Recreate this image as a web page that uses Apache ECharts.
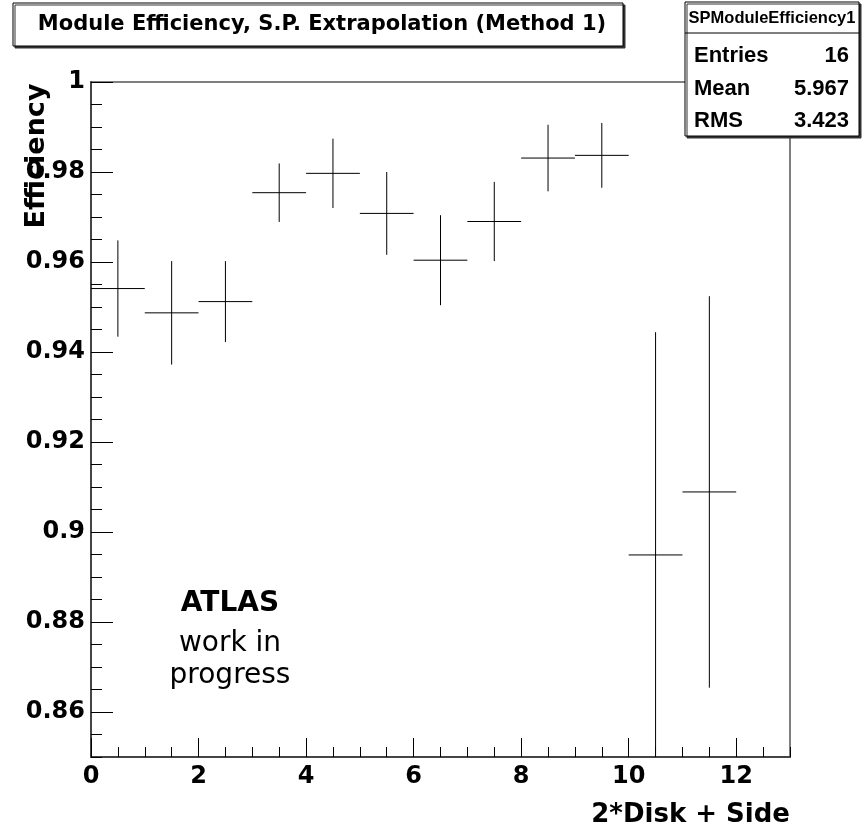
<!DOCTYPE html>
<html><head><meta charset="utf-8">
<script src="https://cdn.jsdelivr.net/npm/echarts@6/dist/echarts.min.js"></script>
<style>html,body{margin:0;padding:0;background:#fff}#c{width:862px;height:833px}</style>
</head><body><div id="c"></div>
<script>
// ---- data ----
const binCenters = [0.5, 1.5, 2.5, 3.5, 4.5, 5.5, 6.5, 7.5, 8.5, 9.5, 10.5, 11.5];
const efficiency = [0.9541, 0.9487, 0.9512, 0.9754, 0.9797, 0.9708, 0.9604, 0.9690, 0.9831, 0.9837, 0.8949, 0.9089];
const efficiencyErr = [0.0107, 0.0115, 0.0090, 0.0065, 0.0077, 0.0092, 0.0100, 0.0088, 0.0074, 0.0072, 0.0495, 0.0435];
const binHalfWidth = [0.5, 0.5, 0.5, 0.5, 0.5, 0.5, 0.5, 0.5, 0.5, 0.5, 0.5, 0.5];
const xTickLabels = [0, 2, 4, 6, 8, 10, 12];
const yTickLabels = [0.86, 0.88, 0.90, 0.92, 0.94, 0.96, 0.98, 1.00];
const titleText = 'Module Efficiency, S.P. Extrapolation (Method 1)';
const statsName = 'SPModuleEfficiency1';
const statsLabels = ['Entries', 'Mean', 'RMS'];
const statsValues = ['16', '5.967', '3.423'];

const F = 'DejaVu Sans';
const FA = 'Liberation Sans';
const chart = echarts.init(document.getElementById('c'), null, {renderer: 'canvas'});

function renderErr(params, api) {
  const x = api.value(0), y = api.value(1), e = api.value(2), hw = api.value(3);
  const cs = params.coordSys;
  const cy = v => Math.max(cs.y, Math.min(cs.y + cs.height, v));
  const pL = api.coord([x - hw, y]), pR = api.coord([x + hw, y]);
  const pT = api.coord([x, y + e]), pB = api.coord([x, y - e]);
  return {type: 'group', children: [
    {type: 'line', shape: {x1: pL[0], y1: pL[1], x2: pR[0], y2: pR[1]}, style: {stroke: '#000', lineWidth: 1}},
    {type: 'line', shape: {x1: pT[0], y1: cy(pT[1]), x2: pB[0], y2: cy(pB[1])}, style: {stroke: '#000', lineWidth: 1}}
  ]};
}

const isIn = (v, arr) => arr.some(a => Math.abs(a - v) < 1e-6);
const fmtNum = v => String(parseFloat(v.toFixed(3)));

const statsGraphic = [];
statsLabels.forEach((lab, i) => {
  const yc = 56 + i * 32.5;
  statsGraphic.push({type: 'text', z: 101, x: 694, y: yc, style: {text: lab, font: 'bold 22px "' + FA + '"', fill: '#000', textAlign: 'left', textVerticalAlign: 'middle'}});
  statsGraphic.push({type: 'text', z: 101, x: 849, y: yc, style: {text: statsValues[i], font: 'bold 22px "' + FA + '"', fill: '#000', textAlign: 'right', textVerticalAlign: 'middle'}});
});

chart.setOption({
  animation: false,
  backgroundColor: '#fff',
  grid: {left: 91, top: 82, right: 72, bottom: 76, show: true, borderColor: '#555', borderWidth: 1.5, backgroundColor: 'transparent'},
  xAxis: [
    {type: 'value', min: 0, max: 13, interval: 0.5, position: 'bottom',
     axisLine: {show: true, onZero: false, lineStyle: {color: '#444', width: 2}},
     axisTick: {show: true, inside: true, length: 10, lineStyle: {color: '#000', width: 1}},
     axisLabel: {show: true, margin: 8, fontFamily: F, fontWeight: 'bold', fontSize: 24, color: '#000',
       formatter: v => isIn(v, xTickLabels) ? String(v) : ''},
     splitLine: {show: false}},
    {type: 'value', min: 0, max: 13, interval: 2, position: 'bottom',
     axisLine: {show: false, onZero: false},
     axisTick: {show: true, inside: true, length: 19, customValues: xTickLabels, lineStyle: {color: '#000', width: 1}},
     axisLabel: {show: false}, splitLine: {show: false}}
  ],
  yAxis: [
    {type: 'value', min: 0.85, max: 1, interval: 0.005, position: 'left',
     axisLine: {show: true, onZero: false, lineStyle: {color: '#444', width: 2}},
     axisTick: {show: true, inside: true, length: 11, lineStyle: {color: '#000', width: 1}},
     axisLabel: {show: true, margin: 6, fontFamily: F, fontWeight: 'bold', fontSize: 24, color: '#000',
       formatter: v => isIn(v, yTickLabels) ? fmtNum(v) : ''},
     splitLine: {show: false}},
    {type: 'value', min: 0.85, max: 1, interval: 0.005, position: 'left',
     axisLine: {show: false, onZero: false},
     axisTick: {show: true, inside: true, length: 22, customValues: yTickLabels, lineStyle: {color: '#000', width: 1}},
     axisLabel: {show: false}, splitLine: {show: false}}
  ],
  series: [{
    type: 'custom', xAxisIndex: 0, yAxisIndex: 0,
    renderItem: renderErr,
    data: binCenters.map((x, i) => [x, efficiency[i], efficiencyErr[i], binHalfWidth[i]]),
    z: 5
  }],
  graphic: [
    // title box
    {type: 'rect', z: 100, shape: {x: 13, y: 3, width: 610, height: 43},
     style: {fill: '#fff', stroke: '#000', lineWidth: 1, shadowColor: '#333', shadowOffsetX: 2, shadowOffsetY: 2, shadowBlur: 0}},
    {type: 'text', z: 101, x: 322, y: 25, style: {text: titleText, font: 'bold 21px "' + F + '"', fill: '#000', textAlign: 'center', textVerticalAlign: 'middle'}},
    // stats box
    {type: 'rect', z: 100, shape: {x: 685, y: 2, width: 174, height: 134},
     style: {fill: '#fff', stroke: '#000', lineWidth: 1, shadowColor: '#333', shadowOffsetX: 2, shadowOffsetY: 2, shadowBlur: 0}},
    {type: 'line', z: 101, shape: {x1: 685, y1: 33, x2: 859, y2: 33}, style: {stroke: '#000', lineWidth: 1}},
    {type: 'text', z: 101, x: 772, y: 18, style: {text: statsName, font: 'bold 16.5px "' + FA + '"', fill: '#000', textAlign: 'center', textVerticalAlign: 'middle'}},
    ...statsGraphic,
    // axis titles
    {type: 'text', z: 50, x: 37, y: 156, rotation: Math.PI / 2,
     style: {text: 'Efficiency', font: 'bold 27px "' + F + '"', fill: '#000', textAlign: 'center', textVerticalAlign: 'middle'}},
    {type: 'text', z: 50, x: 790, y: 815,
     style: {text: '2*Disk + Side', font: 'bold 26px "' + F + '"', fill: '#000', textAlign: 'right', textVerticalAlign: 'middle'}},
    // ATLAS label
    {type: 'text', z: 50, x: 230, y: 604, style: {text: 'ATLAS', font: 'bold 28px "' + F + '"', fill: '#000', textAlign: 'center', textVerticalAlign: 'middle'}},
    {type: 'text', z: 50, x: 230, y: 644, style: {text: 'work in', font: '28px "' + F + '"', fill: '#000', textAlign: 'center', textVerticalAlign: 'middle'}},
    {type: 'text', z: 50, x: 230, y: 676, style: {text: 'progress', font: '28px "' + F + '"', fill: '#000', textAlign: 'center', textVerticalAlign: 'middle'}}
  ]
});
</script>
</body></html>
